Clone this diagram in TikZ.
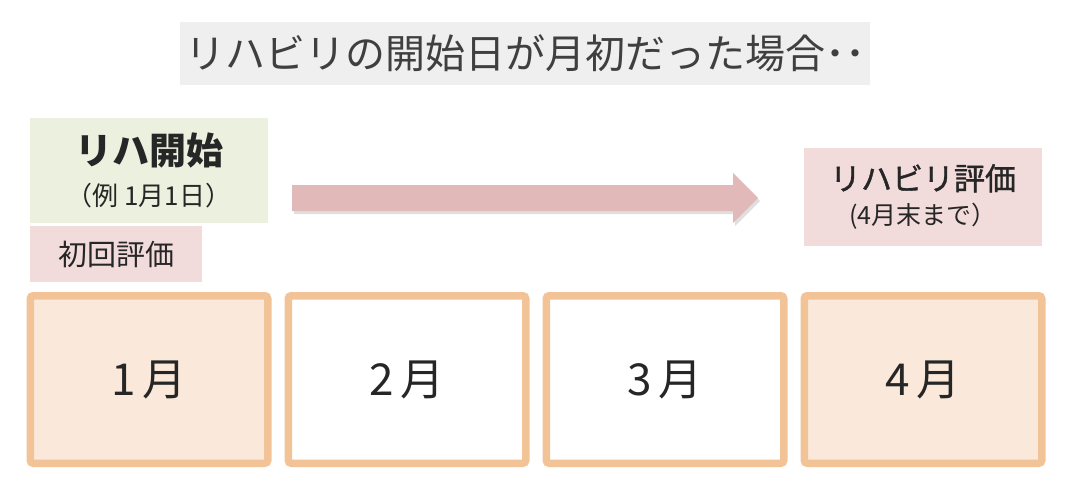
\documentclass[tikz,border=0pt]{standalone}
\usepackage{fontspec}
\setmainfont{Noto Sans CJK JP}
\newfontfamily\semifont[FakeBold=1.2]{Noto Sans CJK JP}
\usetikzlibrary{positioning, shadows}
\definecolor{titlegray}{HTML}{EFEFEF}
\definecolor{titletext}{HTML}{3F3F3F}
\definecolor{startgreen}{HTML}{EBF1DE}
\definecolor{evalpink}{HTML}{F2DCDB}
\definecolor{arrowpink}{HTML}{E0B9B8}
\definecolor{monthline}{HTML}{F1C396}
\definecolor{monthfill}{HTML}{FAE9DA}
\definecolor{textdark}{HTML}{262626}
\tikzset{
  x=1pt, y=-1pt,
  node distance=13pt,
  every node/.style={text=textdark, inner sep=0pt},
  titlebox/.style={fill=titlegray, text=titletext, minimum width=690pt,
    minimum height=63pt, font=\fontsize{40}{48}\selectfont},
  startbox/.style={fill=startgreen, minimum width=238pt, minimum height=105pt,
    align=center},
  evalbox/.style={fill=evalpink, align=center},
  month/.style={draw=monthline, line width=7.5pt, rounded corners=3pt,
    fill=white, minimum width=237.5pt, minimum height=167.5pt,
    font=\fontsize{44}{50}\selectfont},
}

\begin{document}
\begin{tikzpicture}
      \useasboundingbox (0,0) rectangle (1068,482);

      \node[titlebox] (title) at (525,53) {リハビリの開始日が月初だった場合{\bfseries ‥}};

      \node[startbox] (start) at (149,170)
        {{\fontsize{37}{44}\selectfont\bfseries リハ開始}\\[14pt]
         {\fontsize{26}{30}\selectfont （例 1月1日）}};
      \node[evalbox, minimum width=172pt, minimum height=56pt,
            font=\fontsize{29}{34}\selectfont] (first) at (116,254) {初回評価};
      \node[evalbox, minimum width=238pt, minimum height=98pt] (final) at (923,197)
        {{\fontsize{31}{38}\selectfont\semifont リハビリ評価}\\[10pt]
         {\fontsize{25}{30}\selectfont (4月末まで）}};

      % block arrow
      \coordinate (arr-s) at (292,198);
      \coordinate (arr-e) at (758,198);
      \fill[arrowpink, drop shadow={shadow xshift=2pt, shadow yshift=-3pt,
            opacity=0.25}]
        (arr-s) ++(0,-13) -- (733,185) -- (733,173) -- (arr-e)
        -- (733,223) -- (733,211) -- ([yshift=-13pt]arr-s) -- cycle;

      \node[month, fill=monthfill] (m1) at (149,379.5) {1\hspace{6pt}月};
      \node[month, right=of m1] (m2) {2\hspace{6pt}月};
      \node[month, right=of m2] (m3) {3\hspace{6pt}月};
      \node[month, fill=monthfill, right=of m3] (m4) {4\hspace{6pt}月};
\end{tikzpicture}
\end{document}
